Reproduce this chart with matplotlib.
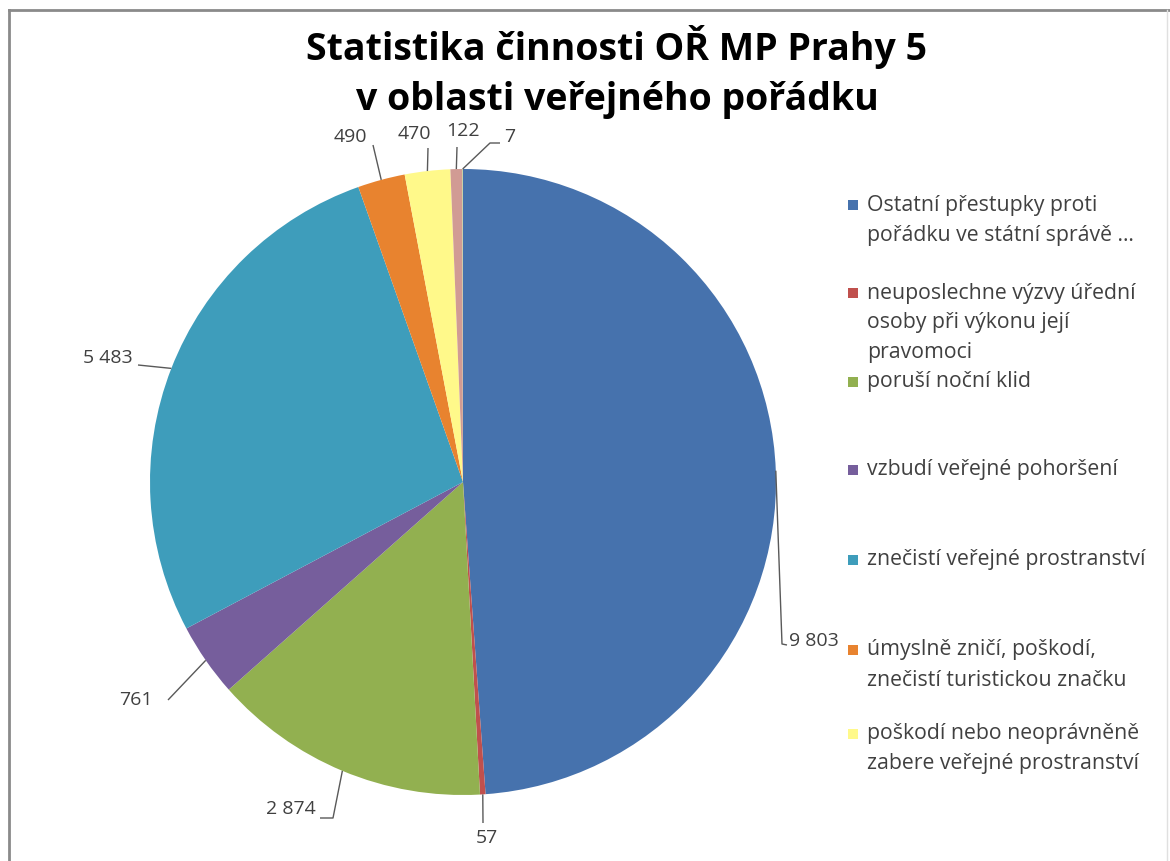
import matplotlib
matplotlib.use("Agg")
import matplotlib.pyplot as plt
import numpy as np
from matplotlib.patches import Rectangle
from matplotlib.lines import Line2D

# ---------------- data ----------------
title_lines = ["Statistika činnosti OŘ MP Prahy 5", "v oblasti veřejného pořádku"]
categories = [
    "Ostatní přestupky proti\npořádku ve státní správě …",
    "neuposlechne výzvy úřední\nosoby při výkonu její\npravomoci",
    "poruší noční klid",
    "vzbudí veřejné pohoršení",
    "znečistí veřejné prostranství",
    "úmyslně zničí, poškodí,\nznečistí turistickou značku",
    "poškodí nebo neoprávněně\nzabere veřejné prostranství",
    "",   # not shown in the visible legend
    "",   # not shown in the visible legend
]
values = [9803, 57, 2874, 761, 5483, 490, 470, 122, 7]
value_labels = ["9 803", "57", "2 874", "761", "5 483", "490", "470", "122", "7"]
legend_count = 7

colors = ["#4672AD", "#C0504D", "#92B050", "#765E9C", "#3E9DBB",
          "#E8832F", "#FFF98A", "#D19B94", "#B7CC8E"]

# ---------------- layout ----------------
W, H = 1170, 861
cx, cy, R = 463, 482, 313          # pie centre / radius in pixels (from top-left)

def P(x, y):
    return ((x - cx) / R, (cy - y) / R)

# leader elbow points and text anchor per label (pixels)
label_layout = [
    ([(782, 644), (787, 645)], (789, 641), "left"),
    ([(483, 823)], (487, 838), "center"),
    ([(333, 818), (320, 818)], (316, 809), "right"),
    ([(168, 700)], (153, 700), "right"),
    ([(138, 365)], (133, 358), "right"),
    ([(373, 145)], (350, 137), "center"),
    ([(428, 148)], (414, 134), "center"),
    ([(457, 147)], (463, 131), "center"),
    ([(490, 143), (500, 143)], (510, 137), "center"),
]

text_color = "#404040"
font = ["Open Sans", "DejaVu Sans"]
title_font = ["Liberation Sans Narrow", "Open Sans", "DejaVu Sans"]

fig = plt.figure(figsize=(W / 100, H / 100), dpi=100)
ax = fig.add_axes([0, 0, 1, 1])

wedges, _ = ax.pie(values, colors=colors, startangle=90, counterclock=False,
                   radius=1, center=(0, 0),
                   wedgeprops=dict(linewidth=0))

ax.set_xlim(-cx / R, (W - cx) / R)
ax.set_ylim(-(H - cy) / R, cy / R)
ax.set_aspect("auto")
ax.axis("off")

# data labels with leader lines
for w, lab, (pts, tpos, ha) in zip(wedges, value_labels, label_layout):
    mid = np.deg2rad((w.theta1 + w.theta2) / 2)
    start = (np.cos(mid), np.sin(mid))
    xs = [start[0]] + [P(*p)[0] for p in pts]
    ys = [start[1]] + [P(*p)[1] for p in pts]
    ax.plot(xs, ys, color="#595959", lw=1.0, solid_capstyle="butt")
    tx, ty = P(*tpos)
    ax.text(tx, ty, lab, ha=ha, va="center", fontsize=14,
            color=text_color, family=font)

# title
title_y = [47, 100]
for line, yy in zip(title_lines, title_y):
    tx, ty = P(617, yy)
    ax.text(tx, ty, line, ha="center", va="center", fontsize=27,
            fontweight="bold", color="black", family=title_font)

# legend (manual, Excel-like even slots)
legend_first_y = [205, 293, 382, 470, 560, 650, 734]
line_gap = 30
for i in range(legend_count):
    y0 = legend_first_y[i]
    mx, my = P(848, y0 + 5)
    ax.add_patch(Rectangle((mx, my), 10 / R, 10 / R, facecolor=colors[i],
                           edgecolor="none"))
    for j, line in enumerate(categories[i].split("\n")):
        tx, ty = P(867, y0 + j * line_gap)
        ax.text(tx, ty, line, ha="left", va="center", fontsize=15.3,
                color=text_color, family=font)

# chart frame
fig.add_artist(Line2D([9 / W, 1], [1 - 10 / H, 1 - 10 / H], color="#8a8a8a",
                      lw=2, transform=fig.transFigure))
fig.add_artist(Line2D([9 / W, 9 / W], [0, 1 - 10 / H], color="#8a8a8a",
                      lw=2, transform=fig.transFigure))
fig.add_artist(Line2D([1167 / W, 1167 / W], [0, 1 - 10 / H], color="#e0e0e0",
                      lw=1, transform=fig.transFigure))

fig.savefig("out.png", dpi=100)
